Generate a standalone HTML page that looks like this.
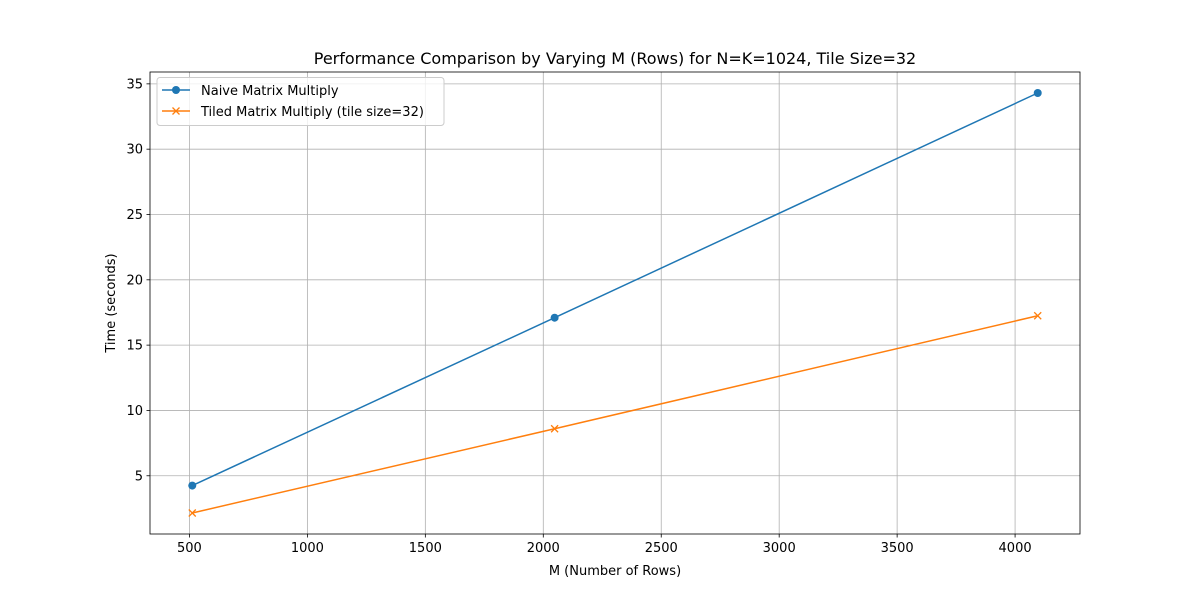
<!DOCTYPE html>
<html><head><meta charset="utf-8"><style>
body{margin:0;background:#fff}
svg{display:block;font-family:"DejaVu Sans","Liberation Sans",sans-serif}
</style></head><body>
<svg id="chart" width="1200" height="600"></svg>
<script>
const categories=[512,2048,4096];
const naiveValues=[4.25,17.1,34.3];
const tiledValues=[2.15,8.6,17.25];
const xTicks=[500,1000,1500,2000,2500,3000,3500,4000];
const yTicks=[5,10,15,20,25,30,35];
const L=150,R=1080,T=72,B=534;
const allY=naiveValues.concat(tiledValues);
const xmin0=Math.min(...categories),xmax0=Math.max(...categories);
const ymin0=Math.min(...allY),ymax0=Math.max(...allY);
const xmin=xmin0-0.05*(xmax0-xmin0),xmax=xmax0+0.05*(xmax0-xmin0);
const ymin=ymin0-0.05*(ymax0-ymin0),ymax=ymax0+0.05*(ymax0-ymin0);
const sx=v=>L+(v-xmin)/(xmax-xmin)*(R-L);
const sy=v=>B-(v-ymin)/(ymax-ymin)*(B-T);
const svg=document.getElementById('chart');
const NS='http://www.w3.org/2000/svg';
function mk(tag,attrs,parent){const e=document.createElementNS(NS,tag);for(const k in attrs)e.setAttribute(k,attrs[k]);(parent||svg).appendChild(e);return e;}
const grid=mk('g',{});


xTicks.forEach(t=>{const x=sx(t);
 mk('line',{x1:x,x2:x,y1:T,y2:B,stroke:'#b0b0b0','stroke-width':0.8},grid);
 mk('line',{x1:x,x2:x,y1:B,y2:B+3.5,stroke:'#000','stroke-width':0.8});
 const tx=mk('text',{x:x,y:B+18,'font-size':13,'text-anchor':'middle'});tx.textContent=t;
 
 });
yTicks.forEach(t=>{const y=sy(t);
 mk('line',{x1:L,x2:R,y1:y,y2:y,stroke:'#b0b0b0','stroke-width':0.8},grid);
 mk('line',{x1:L-3.5,x2:L,y1:y,y2:y,stroke:'#000','stroke-width':0.8});
 const tx=mk('text',{x:L-7,y:y+4.5,'font-size':13,'text-anchor':'end'});tx.textContent=t;
 
 });
function series(vals,color,marker,name){
 const g=mk('g',{});
 
 
 mk('polyline',{points:categories.map((c,i)=>sx(c)+','+sy(vals[i])).join(' '),fill:'none',stroke:color,'stroke-width':1.5},g);
 categories.forEach((c,i)=>{const x=sx(c),y=sy(vals[i]);
  if(marker==='o')mk('circle',{cx:x,cy:y,r:4,fill:color},g);
  else{mk('path',{d:`M${x-3.5},${y-3.5}L${x+3.5},${y+3.5}M${x-3.5},${y+3.5}L${x+3.5},${y-3.5}`,stroke:color,'stroke-width':1.3},g);}
 });}
series(naiveValues,'#1f77b4','o','naive-series');
series(tiledValues,'#ff7f0e','x','tiled-series');
mk('rect',{x:L,y:T,width:R-L,height:B-T,fill:'none',stroke:'#000','stroke-width':0.8});
</script>
<svg width="0" height="0"></svg>
<div style="position:absolute;left:0;top:0;width:1200px;height:600px;pointer-events:none">
<svg width="1200" height="600" style="font-family:'DejaVu Sans','Liberation Sans',sans-serif">
<text x="615" y="64" font-size="16" text-anchor="middle">Performance Comparison by Varying M (Rows) for N=K=1024, Tile Size=32</text>
<text x="615" y="575" font-size="13" text-anchor="middle">M (Number of Rows)</text>
<text x="0" y="0" font-size="13" text-anchor="middle" transform="translate(115,303) rotate(-90)">Time (seconds)</text>
<g>
<rect x="157" y="77.5" width="287" height="48" rx="3" fill="#fff" fill-opacity="0.8" stroke="#ccc"/>
<line x1="162" x2="190" y1="90" y2="90" stroke="#1f77b4" stroke-width="1.5"/>
<circle cx="176" cy="90" r="4" fill="#1f77b4"/>
<text x="201" y="95" font-size="13">Naive Matrix Multiply</text>
<line x1="162" x2="190" y1="111" y2="111" stroke="#ff7f0e" stroke-width="1.5"/>
<path d="M172.5,107.5L179.5,114.5M172.5,114.5L179.5,107.5" stroke="#ff7f0e" stroke-width="1.3"/>
<text x="201" y="116" font-size="13">Tiled Matrix Multiply (tile size=32)</text>
</g>
</svg></div>
</body></html>
